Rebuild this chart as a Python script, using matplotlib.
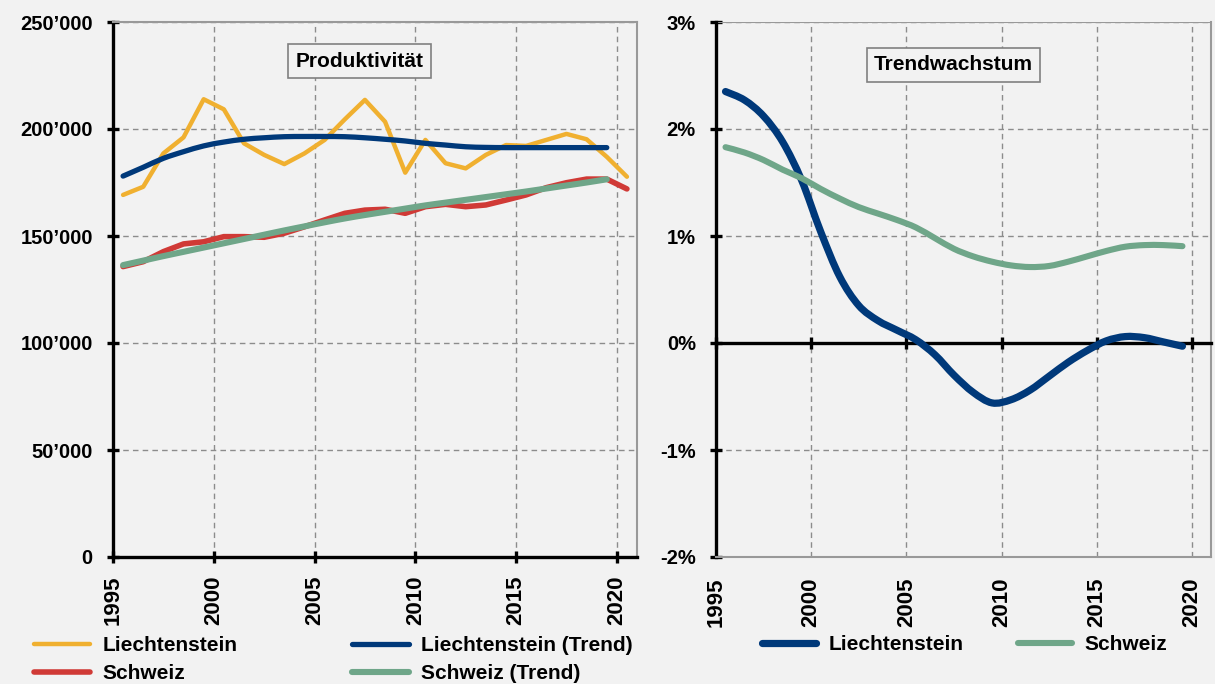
#! /usr/bin/env python3

"""Produktivitaet und Trendwachstum, Liechtenstein und Schweiz"""

import matplotlib
matplotlib.use('Agg')
import matplotlib.pyplot as plt
from matplotlib.lines import Line2D
from matplotlib.patches import PathPatch
from matplotlib.path import Path
from matplotlib.ticker import FuncFormatter, MultipleLocator
import numpy as np

plt.rcParams['font.family'] = ['Liberation Sans', 'DejaVu Sans']
plt.rcParams['font.weight'] = 'bold'

# Data, values at mid-year

years = list(range(1995, 2021))
trend_years = list(range(1995, 2020))

li_prod = [169.2, 173.0, 188.6, 196.1, 213.9, 209.2, 193.3, 187.9, 183.6, 188.6,
           194.9, 204.5, 213.6, 203.4, 179.6, 194.9, 184.0, 181.6, 187.9, 192.5,
           192.1, 194.9, 197.7, 195.2, 187.0, 177.7]
ch_prod = [135.7, 138.0, 142.7, 146.3, 147.3, 149.7, 149.7, 149.4, 151.3, 154.3,
           157.5, 160.6, 162.1, 162.5, 160.6, 163.7, 164.8, 163.7, 164.5, 166.8,
           169.2, 172.6, 174.9, 176.6, 176.6, 172.0]
li_trend = [178.0, 182.1, 186.3, 189.4, 192.1, 193.9, 195.2, 195.9, 196.4, 196.5,
            196.5, 196.4, 195.9, 195.2, 194.4, 193.3, 192.5, 191.7, 191.4, 191.3,
            191.3, 191.3, 191.3, 191.3, 191.3]
ch_trend = [136.4, 138.5, 140.6, 142.6, 144.6, 146.6, 148.6, 150.6, 152.6, 154.5,
            156.4, 158.2, 159.8, 161.3, 162.8, 164.3, 165.6, 166.9, 168.2, 169.5,
            170.8, 172.2, 173.6, 175.0, 176.5]

li_growth = [2.35, 2.27, 2.12, 1.88, 1.52, 1.04, 0.62, 0.35, 0.21, 0.12,
             0.03, -0.11, -0.30, -0.46, -0.56, -0.53, -0.44, -0.31, -0.18, -0.07,
             0.02, 0.06, 0.05, 0.01, -0.03]
ch_growth = [1.83, 1.78, 1.71, 1.62, 1.54, 1.44, 1.35, 1.27, 1.21, 1.15,
             1.08, 0.98, 0.88, 0.81, 0.76, 0.725, 0.71, 0.72, 0.76, 0.81,
             0.86, 0.90, 0.915, 0.915, 0.905]

# Colours

YELLOW = '#f0b030'
BLUE = '#00397a'
RED = '#d03a36'
GREEN = '#6fa689'
BG = '#f2f2f2'
GRID = '#8c8c8c'
FRAME = '#999999'


def smooth_line(ax, xs, ys, color, lw, zorder=3):
    """Draw a smoothed line (Bezier through every data point, like a spreadsheet smoothed line)"""
    pts = np.column_stack([xs, ys]).astype(float)
    n = len(pts)
    verts = [pts[0]]
    for i in range(n - 1):
        p0 = pts[i - 1] if i > 0 else pts[i]
        p1 = pts[i]
        p2 = pts[i + 1]
        p3 = pts[i + 2] if i + 2 < n else pts[i + 1]
        verts += [p1 + (p2 - p0) / 6, p2 - (p3 - p1) / 6, p2]
    codes = [Path.MOVETO] + [Path.CURVE4] * (3 * (n - 1))
    ax.add_patch(PathPatch(Path(verts, codes), fill=False, edgecolor=color, linewidth=lw,
                           capstyle='round', joinstyle='round', zorder=zorder))
    return Line2D([], [], color=color, lw=lw, solid_capstyle='round')


fig = plt.figure(figsize=(12.15, 6.84), dpi=100, facecolor=BG)

ax1 = fig.add_axes([113 / 1215, 1 - 557 / 684, (637 - 113) / 1215, (557 - 22) / 684])
ax2 = fig.add_axes([716 / 1215, 1 - 557 / 684, (1211 - 716) / 1215, (557 - 22) / 684])


def style_axes(ax):
    ax.set_facecolor(BG)
    ax.set_xlim(1995, 2021)
    ax.xaxis.set_major_locator(MultipleLocator(5))
    ax.grid(True, color=GRID, linestyle=(0, (4, 3)), linewidth=1.0)
    ax.set_axisbelow(True)
    for side in ('top', 'right'):
        ax.spines[side].set_color(FRAME)
        ax.spines[side].set_linewidth(1.5)
    ax.spines['left'].set_color('black')
    ax.spines['left'].set_linewidth(2.4)
    ax.spines['bottom'].set_color('black')
    ax.spines['bottom'].set_linewidth(2.4)
    ax.tick_params(axis='y', direction='inout', length=9, width=2.4, pad=10,
                   labelsize=14.5)


x = np.array(years) + 0.5
xt = np.array(trend_years) + 0.5

# Left panel: Produktivitaet

style_axes(ax1)
ax1.set_ylim(0, 250000)
ax1.yaxis.set_major_locator(MultipleLocator(50000))
ax1.yaxis.set_major_formatter(FuncFormatter(lambda v, p: '0' if v == 0 else '%d\u2019000' % (v / 1000)))
ax1.tick_params(axis='x', direction='inout', length=9, width=2.4, pad=9,
                labelsize=16, labelrotation=90)

l1, = ax1.plot(x, np.array(li_prod) * 1000, color=YELLOW, lw=3.2, solid_joinstyle='round',
               solid_capstyle='round')
l3, = ax1.plot(x, np.array(ch_prod) * 1000, color=RED, lw=4.0, solid_joinstyle='round',
               solid_capstyle='round')
l2 = smooth_line(ax1, xt, np.array(li_trend) * 1000, BLUE, 3.8)
l4 = smooth_line(ax1, xt, np.array(ch_trend) * 1000, GREEN, 4.4)

ax1.text(0.47, 0.927, 'Produktivität', transform=ax1.transAxes, ha='center', va='center',
         fontsize=15, fontweight='bold',
         bbox=dict(boxstyle='square,pad=0.35', facecolor=BG, edgecolor='#808080', linewidth=1.2))

fig.legend([l1, l3, l2, l4], ['Liechtenstein', 'Schweiz', 'Liechtenstein (Trend)', 'Schweiz (Trend)'],
           loc='upper left', bbox_to_anchor=(34 / 1215, 1 - 636 / 684), ncol=2, frameon=False,
           fontsize=15, handlelength=2.7, handletextpad=0.6, columnspacing=5.5,
           labelspacing=0.45, borderaxespad=0, borderpad=0)

# Right panel: Trendwachstum
# the black axis line with the year ticks sits on 0%, the year labels stay at the bottom

style_axes(ax2)
ax2.set_ylim(-2, 3)
ax2.yaxis.set_major_locator(MultipleLocator(1))
ax2.yaxis.set_major_formatter(FuncFormatter(lambda v, p: '%d%%' % round(v)))
ax2.spines['top'].set_position(('data', 0))
ax2.spines['top'].set_color('black')
ax2.spines['top'].set_linewidth(2.4)
ax2.spines['bottom'].set_color(FRAME)
ax2.spines['bottom'].set_linewidth(1.5)
ax2.tick_params(axis='x', direction='inout', length=9, width=2.4, top=True, bottom=False,
                labeltop=False, labelbottom=True, pad=10, labelsize=16, labelrotation=90)
ax2.axhline(3, color=FRAME, lw=1.5, zorder=2.5)

r1 = smooth_line(ax2, xt, li_growth, BLUE, 5.2, zorder=4)
r2 = smooth_line(ax2, xt, ch_growth, GREEN, 4.4, zorder=4)

ax2.text(0.48, 0.92, 'Trendwachstum', transform=ax2.transAxes, ha='center', va='center',
         fontsize=15, fontweight='bold',
         bbox=dict(boxstyle='square,pad=0.35', facecolor=BG, edgecolor='#808080', linewidth=1.2))

fig.legend([r1, r2], ['Liechtenstein', 'Schweiz'], loc='upper left',
           bbox_to_anchor=(762 / 1215, 1 - 635 / 684), ncol=2, frameon=False,
           fontsize=15, handlelength=2.6, handletextpad=0.6, columnspacing=2.6,
           borderaxespad=0, borderpad=0)

fig.savefig('out.png', dpi=100, facecolor=BG)
plt.close(fig)
